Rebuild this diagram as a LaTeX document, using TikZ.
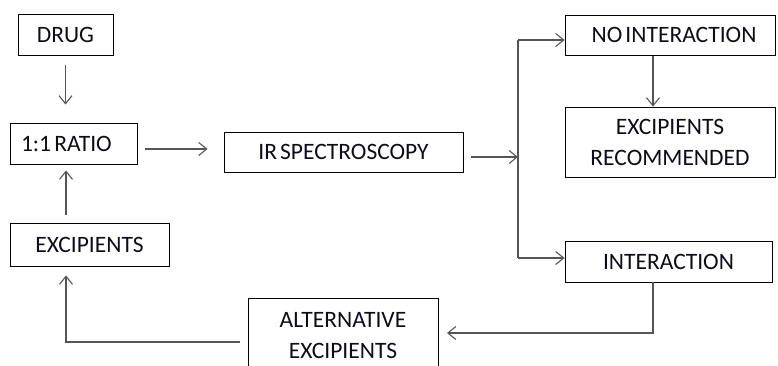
\documentclass[tikz,border=0pt]{standalone}
\usepackage{fontspec}
\setmainfont[WordSpace=0.6]{Carlito}
\usetikzlibrary{arrows.meta}
\definecolor{linegray}{HTML}{555555}
\definecolor{textdark}{HTML}{0D0D1A}
\tikzset{
  box/.style={draw=black, line width=0.9pt, rectangle, inner sep=0pt,
    font=\fontsize{23.5}{31}\selectfont, text=textdark, align=flush center},
  conn/.style={draw=linegray, line width=1.1pt},
  arr/.style={conn, -{Straight Barb[length=8pt,width=13pt,line width=1.1pt]}},
}
\begin{document}
\begin{tikzpicture}[x=1pt, y=-1pt]
\useasboundingbox (0,0) rectangle (778,365);
\clip (0,0) rectangle (778,365);

% process boxes
\node[box, minimum width=95, minimum height=41] (drug) at (65.5,34.5) {DRUG};
\node[box, minimum height=41, text width=105pt, inner xsep=11pt, align=flush left] (ratio) at (73.5,143.5) {1:1 RATIO};
\node[box, minimum width=239, minimum height=40] (ir) at (343.5,152) {IR SPECTROSCOPY};
\node[box, minimum width=210, minimum height=40, text width=200pt] (noint) at (670,35) {\hspace*{8pt}NO INTERACTION};
\node[box, minimum width=210, minimum height=70] (rec) at (670,142) {EXCIPIENTS\\RECOMMENDED};
\node[box, minimum width=207, minimum height=41] (inter) at (668.5,261.5) {INTERACTION};
\node[box, minimum width=190, minimum height=76] (alt) at (343,336) {ALTERNATIVE\\EXCIPIENTS};
\node[box, minimum width=159, minimum height=43] (exc) at (89.5,244.5) {EXCIPIENTS};

% branch points
\coordinate (split) at (518,157);
\coordinate (top) at (518,40);
\coordinate (bot) at (518,258);
\coordinate (turnA) at (653,333);
\coordinate (backA) at (447,333);
\coordinate (altout) at (240,342);
\coordinate (turnB) at (66,342);

% connectors
\draw[arr, shorten <=10pt, shorten >=18pt] (drug.south) -- (drug.south |- ratio.north);
\draw[arr, shorten <=8pt, shorten >=16pt] ([yshift=-5.5pt]ratio.east) -- ([yshift=-5.5pt]ratio.east -| ir.west);
\draw[arr, shorten <=8pt] ([yshift=-5pt]ir.east) -- (split);
\draw[conn] (top) -- (bot);
\draw[arr] (top) -- (top -| noint.west);
\draw[arr] (bot) -- (bot -| inter.west);
\draw[arr, shorten <=1pt] (noint.south -| turnA) -- (rec.north -| turnA);
\draw[arr] (inter.south -| turnA) -- (turnA) -- (backA);
\draw[arr, shorten >=9pt] (altout) -- (turnB) -- (turnB |- exc.south);
\draw[arr, shorten <=8pt, shorten >=6pt] (exc.north -| turnB) -- (turnB |- ratio.south);
\end{tikzpicture}
\end{document}
